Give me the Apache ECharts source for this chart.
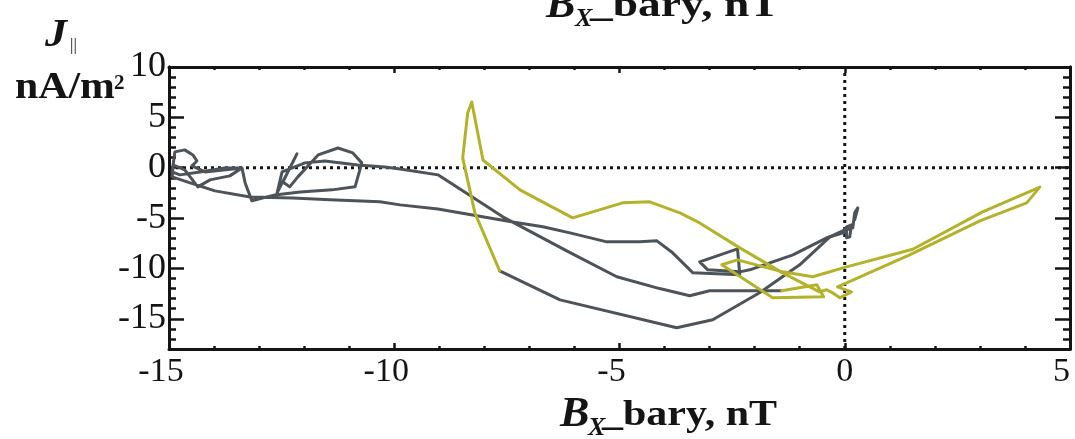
<!DOCTYPE html>
<html>
<head>
<meta charset="utf-8">
<script src="https://cdn.jsdelivr.net/npm/echarts@6/dist/echarts.min.js"></script>
<style>
html,body{margin:0;padding:0;background:#fff;}
#c{width:1075px;height:439px;}
</style>
</head>
<body>
<div id="c"></div>
<script>
// ---- data ----
const xTicks = [-15, -10, -5, 0, 5];
const yTicks = [-15, -10, -5, 0, 5, 10];

const grayA_Bx = [0.04,-0.40,-1.15,-2.11,-2.33,-3.04,-3.22,-2.38,-2.33,-3.37,-3.82,-4.17,-4.55,-5.28,-6.10,-6.70,-7.37,-9.03,-9.87,-10.32,-11.43,-12.25,-13.20,-13.98,-14.53,-14.93,-14.91,-14.65,-14.36,-14.09,-13.65,-13.38,-13.76,-14.31,-14.76,-14.93,-14.87,-14.65,-14.47,-14.38,-14.49,-14.20,-13.38,-13.31,-13.16,-12.65,-12.09,-11.38,-10.87,-10.72,-10.92,-11.25,-11.69,-12.14,-12.32,-12.47,-12.16,-12.60,-12.49,-11.98,-11.54,-10.81,-10.21,-9.87,-9.03,-7.59,-6.15,-5.06,-4.11,-3.44,-3.00,-1.40];
const grayA_J = [-6.37,-6.96,-8.65,-10.14,-10.34,-10.14,-9.35,-8.06,-10.63,-10.44,-8.45,-7.26,-7.36,-7.36,-6.47,-5.87,-5.38,-4.09,-3.69,-3.39,-3.19,-3.00,-2.90,-2.30,-1.51,-0.91,0.28,-0.22,-1.90,-1.21,-0.81,-0.02,-0.02,-0.42,-0.71,-0.42,1.57,1.77,1.27,0.67,0.18,-0.42,-0.02,-1.51,-3.29,-2.70,-2.40,-2.20,-1.90,0.48,1.47,1.96,1.27,-0.91,-1.90,-1.41,1.37,-2.50,-0.42,0.48,0.67,0.28,0.08,-0.12,-0.71,-4.88,-8.30,-10.83,-12.00,-12.72,-12.22,-12.22];

const grayB_Bx = [-7.66,-6.32,-3.73,-2.93,-1.89,-1.00,-0.33,0.00,0.04,0.15,0.11,0.04,0.04,0.18,0.22,0.29,0.22];
const grayB_J = [-10.24,-13.12,-15.89,-15.10,-12.42,-9.64,-6.87,-6.17,-5.87,-5.67,-6.87,-6.96,-6.17,-5.97,-4.48,-3.99,-5.18];

const yellow_Bx = [-1.40,-0.62,-0.47,-1.60,-2.73,-2.38,-1.38,-0.71,0.04,1.51,3.06,4.33,4.04,3.00,1.44,-0.16,0.15,-0.11,-0.27,-0.40,-0.56,-1.38,-2.33,-3.22,-3.66,-4.33,-4.93,-6.04,-7.21,-8.03,-8.28,-8.37,-8.48,-8.21,-7.66];
const yellow_J = [-12.22,-11.63,-12.82,-12.92,-9.64,-9.15,-10.34,-10.83,-9.85,-8.10,-4.38,-1.93,-3.49,-5.28,-8.65,-11.83,-12.32,-12.92,-12.42,-12.12,-12.32,-10.44,-7.96,-5.48,-4.48,-3.39,-3.49,-4.98,-2.20,0.77,6.53,5.44,0.97,-4.48,-10.24];

const zeroLineX = [-15, 5];
const zeroLineY = [-18, 10];

// ---- helpers ----
const zip = (a, b) => a.map((v, i) => [v, b[i]]);
const SERIF = '"Liberation Serif","DejaVu Serif",serif';
const INK = '#141414';

const chart = echarts.init(document.getElementById('c'), null, {renderer: 'canvas'});

function yAxisCfg(pos, major, showLabel) {
  const a = {
    type: 'value', position: pos, min: -18, max: 10, interval: 1,
    axisLine: {show: true, onZero: false, lineStyle: {color: INK, width: 3}},
    splitLine: {show: false},
    axisTick: {show: true, inside: true, length: major ? 15 : 7, lineStyle: {color: INK, width: 2.5}},
    axisLabel: {show: false}
  };
  if (major) {
    a.axisTick.customValues = yTicks;
    if (showLabel) {
      a.axisLabel = {show: true, customValues: yTicks, fontFamily: SERIF, fontSize: 36, color: INK, margin: 3};
    }
  }
  return a;
}

function xAxisCfg(pos, showLabel) {
  return {
    type: 'value', position: pos, min: -15, max: 5, interval: 5,
    axisLine: {show: true, onZero: false, lineStyle: {color: INK, width: 3}},
    splitLine: {show: false},
    axisTick: {show: true, inside: true, length: 6, lineStyle: {color: INK, width: 2.5}},
    minorTick: {show: true, splitNumber: 5, length: 3, lineStyle: {color: INK, width: 2.5}},
    axisLabel: showLabel ? {
      show: true, fontFamily: SERIF, fontSize: 34, color: INK, margin: 6,
      alignMaxLabel: 'right',
      formatter: v => (v < 0 ? '{n|' + v + '}' : String(v)),
      rich: {n: {fontFamily: SERIF, fontSize: 34, color: INK, padding: [0, 16, 0, 0]}}
    } : {show: false}
  };
}

const option = {
  backgroundColor: '#fff',
  animation: false,
  grid: {left: 169, right: 5, top: 67, bottom: 90, containLabel: false, outerBoundsMode: 'none'},
  xAxis: [xAxisCfg('bottom', true), xAxisCfg('top', false)],
  yAxis: [yAxisCfg('left', false, false), yAxisCfg('left', true, true), yAxisCfg('right', false, false), yAxisCfg('right', true, false)],
  series: [
    {
      type: 'line', name: 'zeroH', xAxisIndex: 0, yAxisIndex: 0, z: 1,
      data: zeroLineX.map(v => [v, 0]), showSymbol: false, silent: true,
      lineStyle: {color: INK, width: 3, type: [3, 4], cap: 'butt'}
    },
    {
      type: 'line', name: 'zeroV', xAxisIndex: 0, yAxisIndex: 0, z: 1,
      data: zeroLineY.map(v => [0, v]), showSymbol: false, silent: true,
      lineStyle: {color: INK, width: 3, type: [3, 4], cap: 'butt'}
    },
    {
      type: 'line', name: 'grayA', xAxisIndex: 0, yAxisIndex: 0, z: 2,
      data: zip(grayA_Bx, grayA_J), showSymbol: false, smooth: false,
      lineStyle: {color: '#4c5359', width: 3, join: 'round', cap: 'round'}
    },
    {
      type: 'line', name: 'grayB', xAxisIndex: 0, yAxisIndex: 0, z: 2,
      data: zip(grayB_Bx, grayB_J), showSymbol: false, smooth: false,
      lineStyle: {color: '#4c5359', width: 3, join: 'round', cap: 'round'}
    },
    {
      type: 'line', name: 'yellow', xAxisIndex: 0, yAxisIndex: 0, z: 3,
      data: zip(yellow_Bx, yellow_J), showSymbol: false, smooth: false,
      lineStyle: {color: '#b4b22a', width: 3, join: 'round', cap: 'round'}
    }
  ],
  graphic: [
    // y-axis title
    {type: 'text', x: 45, y: 36, scaleX: 1.1, style: {text: 'J', font: 'italic bold 40px ' + SERIF, fill: INK, align: 'left', verticalAlign: 'middle'}},
    {type: 'text', x: 70, y: 46, style: {text: '||', font: '17px ' + SERIF, fill: INK, align: 'left', verticalAlign: 'middle'}},
    {type: 'text', x: 15, y: 88, scaleX: 1.1, style: {text: 'nA/m', font: 'bold 38px ' + SERIF, fill: INK, align: 'left', verticalAlign: 'middle'}},
    {type: 'text', x: 114, y: 84, style: {text: '2', font: 'bold 21px ' + SERIF, fill: INK, align: 'left', verticalAlign: 'middle'}},
    // bottom x-axis title
    {type: 'text', x: 560, y: 415, scaleX: 1.05, style: {text: 'B', font: 'italic bold 42px ' + SERIF, fill: INK, align: 'left', verticalAlign: 'middle'}},
    {type: 'text', x: 588, y: 428, style: {text: 'X', font: 'italic bold 26px ' + SERIF, fill: INK, align: 'left', verticalAlign: 'middle'}},
    {type: 'text', x: 602, y: 416, scaleX: 1.2, style: {text: '_bary, nT', font: 'bold 35px ' + SERIF, fill: INK, align: 'left', verticalAlign: 'middle'}},
    // top title (clipped by the top edge)
    {type: 'text', x: 546, y: 6, scaleX: 1.05, style: {text: 'B', font: 'italic bold 42px ' + SERIF, fill: INK, align: 'left', verticalAlign: 'middle'}},
    {type: 'text', x: 575, y: 19, style: {text: 'X', font: 'italic bold 26px ' + SERIF, fill: INK, align: 'left', verticalAlign: 'middle'}},
    {type: 'text', x: 590, y: 7, scaleX: 1.3, style: {text: '_bary, nT', font: 'bold 35px ' + SERIF, fill: INK, align: 'left', verticalAlign: 'middle'}}
  ]
};
chart.setOption(option);
</script>
</body>
</html>
